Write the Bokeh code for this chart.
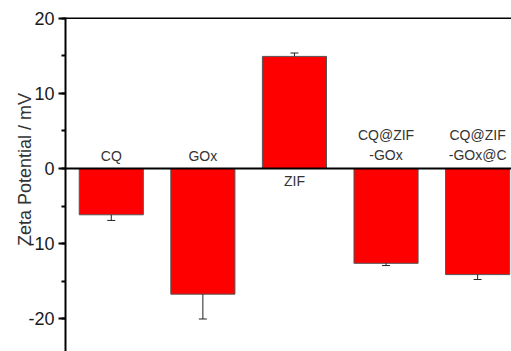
from bokeh.plotting import figure
from bokeh.models import Range1d, Span, SingleIntervalTicker, ColumnDataSource, PrintfTickFormatter
from bokeh.core.properties import value
from bokeh.embed import file_html
from bokeh.resources import INLINE

categories = ["CQ", "GOx", "ZIF", "CQ@ZIF\n-GOx", "CQ@ZIF\n-GOx@C"]
zeta = [-6.15, -16.7, 14.9, -12.6, -14.1]
errors = [0.75, 3.3, 0.45, 0.3, 0.65]
y_title = "Zeta Potential / mV"

FONT = "Liberation Sans"

xs = list(range(1, len(categories) + 1))
err_end = [v + (e if v >= 0 else -e) for v, e in zip(zeta, errors)]

p = figure(width=511, height=351, output_backend="svg", toolbar_location=None,
           x_range=Range1d(0.5, 5.37), y_range=Range1d(-24.32, 20.07),
           min_border_left=65, min_border_right=0, min_border_top=17, min_border_bottom=0)
p.outline_line_color = None
p.grid.visible = False
p.xaxis.visible = False
p.background_fill_color = "white"
p.border_fill_color = "white"

ax = p.yaxis[0]
ax.ticker = SingleIntervalTicker(interval=10, num_minor_ticks=2)
ax.formatter = PrintfTickFormatter(format="%d")
ax.axis_line_width = 2
ax.axis_line_color = "black"
ax.major_tick_out = 7
ax.major_tick_in = 0
ax.minor_tick_out = 4
ax.minor_tick_in = 0
ax.major_tick_line_width = 2
ax.minor_tick_line_width = 2
ax.major_tick_line_color = "black"
ax.minor_tick_line_color = "black"
ax.major_label_text_font = FONT
ax.major_label_text_font_size = "18px"
ax.major_label_text_color = "#1a1a1a"
ax.major_label_standoff = 4
# leading no-break spaces shift the centred title upwards, as in the reference
ax.axis_label = "\u00a0" * 6 + y_title
ax.axis_label_text_font = FONT
ax.axis_label_text_font_size = "18px"
ax.axis_label_text_font_style = "normal"
ax.axis_label_text_color = "#333333"
ax.axis_label_standoff = -10

p.add_layout(Span(location=0, dimension="width", line_color="black", line_width=2))
p.add_layout(Span(location=20, dimension="width", line_color="black", line_width=2))

p.vbar(x=xs, top=zeta, bottom=0, width=0.7, fill_color="#ff0000",
       line_color="#555555", line_width=1)

p.segment(x0=xs, y0=zeta, x1=xs, y1=err_end, line_color="#222222", line_width=1)
p.scatter(x=xs, y=err_end, marker="dash", size=8, line_color="#222222", line_width=1)

above_idx = [i for i, v in enumerate(zeta) if v < 0]
below_idx = [i for i, v in enumerate(zeta) if v >= 0]

src_above = ColumnDataSource(dict(x=[xs[i] for i in above_idx], y=[0] * len(above_idx),
                                  t=[categories[i] for i in above_idx]))
src_below = ColumnDataSource(dict(x=[xs[i] for i in below_idx], y=[0] * len(below_idx),
                                  t=[categories[i] for i in below_idx]))

p.text(x="x", y="y", text="t", source=src_above, text_font=value(FONT),
       text_font_size="14px", text_color="#333333", text_align="center",
       text_baseline="bottom", y_offset=-5, text_line_height=1.28)
p.text(x="x", y="y", text="t", source=src_below, text_font=value(FONT),
       text_font_size="14px", text_color="#333333", text_align="center",
       text_baseline="top", y_offset=4)

open("out.html", "w").write(file_html(p, INLINE))
